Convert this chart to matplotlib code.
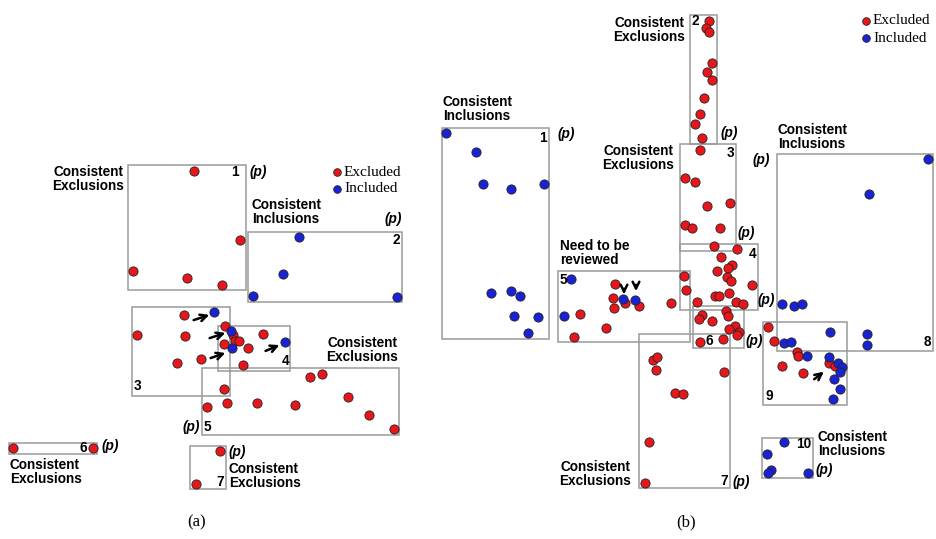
import matplotlib.pyplot as plt
from matplotlib.patches import Rectangle

# Pixel-space diagram: x to the right, y downwards
W, H = 937, 539

# ---- panel (a) ----
a_red_x = [194, 240, 133, 187, 222,
           184, 225, 137, 185, 233, 235, 239, 224, 248, 263, 177, 201, 243,
           310, 322, 224, 348, 207, 227, 257, 295, 369, 394,
           13, 93, 220, 196]
a_red_y = [171, 240, 271, 278, 285,
           315, 326, 335, 336, 335, 341, 341, 344, 348, 334, 363, 359, 365,
           377, 374, 389, 397, 407, 403, 403, 405, 415, 429,
           448, 448, 451, 484]
a_blue_x = [299, 283, 253, 397, 214, 231, 232, 285]
a_blue_y = [237, 274, 296, 297, 312, 331, 348, 342]

a_boxes = [(128, 165, 246, 290), (248, 232, 402, 302), (132, 307, 230, 396),
           (218, 326, 290, 371), (202, 368, 399, 435), (9, 443, 97, 454),
           (190, 446, 226, 489)]
a_arrows = [((191, 321), (212, 314)), ((207, 339), (228, 332)),
            ((208, 359), (228, 352)), ((263, 352), (282, 344))]

# ---- panel (b) ----
b_red_x = [709, 706, 709, 712, 707, 712, 704, 700, 695, 702, 700,
           685, 695, 707, 730, 685, 692, 720, 714, 737,
           721, 732, 728, 717, 727, 731, 752, 684, 686, 715, 719, 729, 736, 743, 697, 671,
           726, 728, 702, 699, 712, 735, 729, 739, 737, 700, 723,
           615, 613, 625, 639, 614, 580, 606, 574,
           653, 657, 656, 724, 675, 683, 649, 645,
           768, 774, 797, 798, 782, 803, 829, 835]
b_red_y = [21, 28, 32, 63, 72, 80, 98, 114, 124, 138, 150,
           178, 182, 206, 203, 225, 228, 228, 246, 249,
           257, 265, 268, 271, 277, 281, 285, 276, 290, 296, 296, 293, 302, 304, 302, 303,
           311, 316, 315, 319, 321, 326, 329, 332, 335, 342, 339,
           284, 298, 303, 306, 308, 314, 328, 337,
           360, 357, 370, 372, 393, 394, 442, 483,
           327, 341, 352, 356, 366, 373, 363, 366]
b_blue_x = [446, 476, 483, 511, 544, 491, 511, 520, 514, 538, 528,
            571, 623, 635, 564,
            928, 869, 782, 794, 802, 867, 867,
            784, 791, 830, 807, 829, 838, 842, 840, 834, 840, 833,
            784, 767, 771, 768, 808]
b_blue_y = [133, 152, 184, 189, 184, 293, 291, 296, 316, 317, 333,
            279, 299, 300, 316,
            159, 194, 304, 306, 304, 334, 345,
            343, 342, 332, 356, 357, 363, 367, 372, 379, 389, 399,
            442, 454, 470, 473, 473]

b_boxes = [(442, 128, 549, 339), (690, 15, 717, 144), (680, 144, 736, 251),
           (680, 244, 758, 310), (558, 271, 690, 342), (693, 306, 744, 348),
           (639, 334, 730, 488), (777, 154, 933, 351), (763, 322, 847, 405),
           (762, 438, 813, 478)]
b_arrows = [((624, 286), (624, 297)), ((636, 282), (636, 294)),
            ((812, 381), (826, 370))]

RED = '#e8151b'
BLUE = '#1a22d6'
BOXC = '#9a9a9a'
SANS = 'Liberation Sans'
SERIF = 'Liberation Serif'

fig = plt.figure(figsize=(W / 100, H / 100), dpi=100)
ax = fig.add_axes([0, 0, 1, 1])
ax.set_xlim(0, W)
ax.set_ylim(H, 0)
ax.axis('off')

for x0, y0, x1, y1 in a_boxes + b_boxes:
    ax.add_patch(Rectangle((x0, y0), x1 - x0, y1 - y0, fill=False,
                           edgecolor=BOXC, lw=1.1, zorder=1))

dot = dict(s=44, edgecolors='#222222', linewidths=0.6, zorder=3)
ax.scatter(a_red_x, a_red_y, c=RED, **dot)
ax.scatter(a_blue_x, a_blue_y, c=BLUE, **dot)
ax.scatter(b_red_x, b_red_y, c=RED, **dot)
ax.scatter(b_blue_x, b_blue_y, c=BLUE, **dot)

for (sx, sy), (ex, ey) in a_arrows + b_arrows:
    ax.annotate('', xy=(ex, ey), xytext=(sx, sy),
                arrowprops=dict(arrowstyle='->', lw=1.8, color='black',
                                mutation_scale=12), zorder=4)


def lab(x, y, s, ha='left', va='center', size=9.8, style='normal'):
    ax.text(x, y, s, ha=ha, va=va, fontsize=size, fontweight='bold',
            fontstyle=style, family=SANS, linespacing=0.95, zorder=5)


def p(x, y):
    lab(x, y, '(p)', style='italic')


# panel (a) labels
lab(124, 179, 'Consistent\nExclusions', ha='right')
lab(239, 172, '1', ha='right'); p(250, 172)
lab(252, 212, 'Consistent\nInclusions')
p(385, 219)
lab(400, 240, '2', ha='right')
lab(134, 386, '3')
lab(289, 361, '4', ha='right')
lab(398, 350, 'Consistent\nExclusions', ha='right')
p(183, 427); lab(204, 427, '5')
lab(87, 448, '6', ha='right'); p(102, 446)
lab(10, 472, 'Consistent\nExclusions')
p(229, 452)
lab(224, 482, '7', ha='right')
lab(229, 476, 'Consistent\nExclusions')

# panel (b) labels
lab(443, 109, 'Consistent\nInclusions')
lab(547, 138, '1', ha='right'); p(558, 134)
lab(685, 30, 'Consistent\nExclusions', ha='right')
lab(692, 21, '2')
p(721, 133)
lab(674, 158, 'Consistent\nExclusions', ha='right')
lab(734, 153, '3', ha='right')
p(738, 233)
lab(756, 254, '4', ha='right')
lab(560, 253, 'Need to be\nreviewed')
lab(560, 280, '5')
p(758, 300)
lab(706, 341, '6'); p(746, 341)
lab(728, 481, '7', ha='right'); p(733, 482)
lab(631, 474, 'Consistent\nExclusions', ha='right')
lab(778, 137, 'Consistent\nInclusions')
p(753, 160)
lab(931, 342, '8', ha='right')
lab(766, 396, '9')
lab(811, 444, '10', ha='right')
lab(818, 444, 'Consistent\nInclusions')
p(816, 470)

# legends
for lx, ly in [(337, 172), (866, 21)]:
    ax.scatter([lx], [ly], c=RED, s=30, edgecolors='#222222', linewidths=0.6, zorder=3)
    ax.scatter([lx], [ly + 17], c=BLUE, s=30, edgecolors='#222222', linewidths=0.6, zorder=3)
    ax.text(lx + 7, ly, 'Excluded', ha='left', va='center', fontsize=11, family=SERIF)
    ax.text(lx + 7, ly + 17, 'Included', ha='left', va='center', fontsize=11, family=SERIF)

ax.text(197, 522, '(a)', ha='center', va='center', fontsize=12, family=SERIF)
ax.text(686, 522, '(b)', ha='center', va='center', fontsize=12, family=SERIF)

fig.savefig('out.png', dpi=100)
